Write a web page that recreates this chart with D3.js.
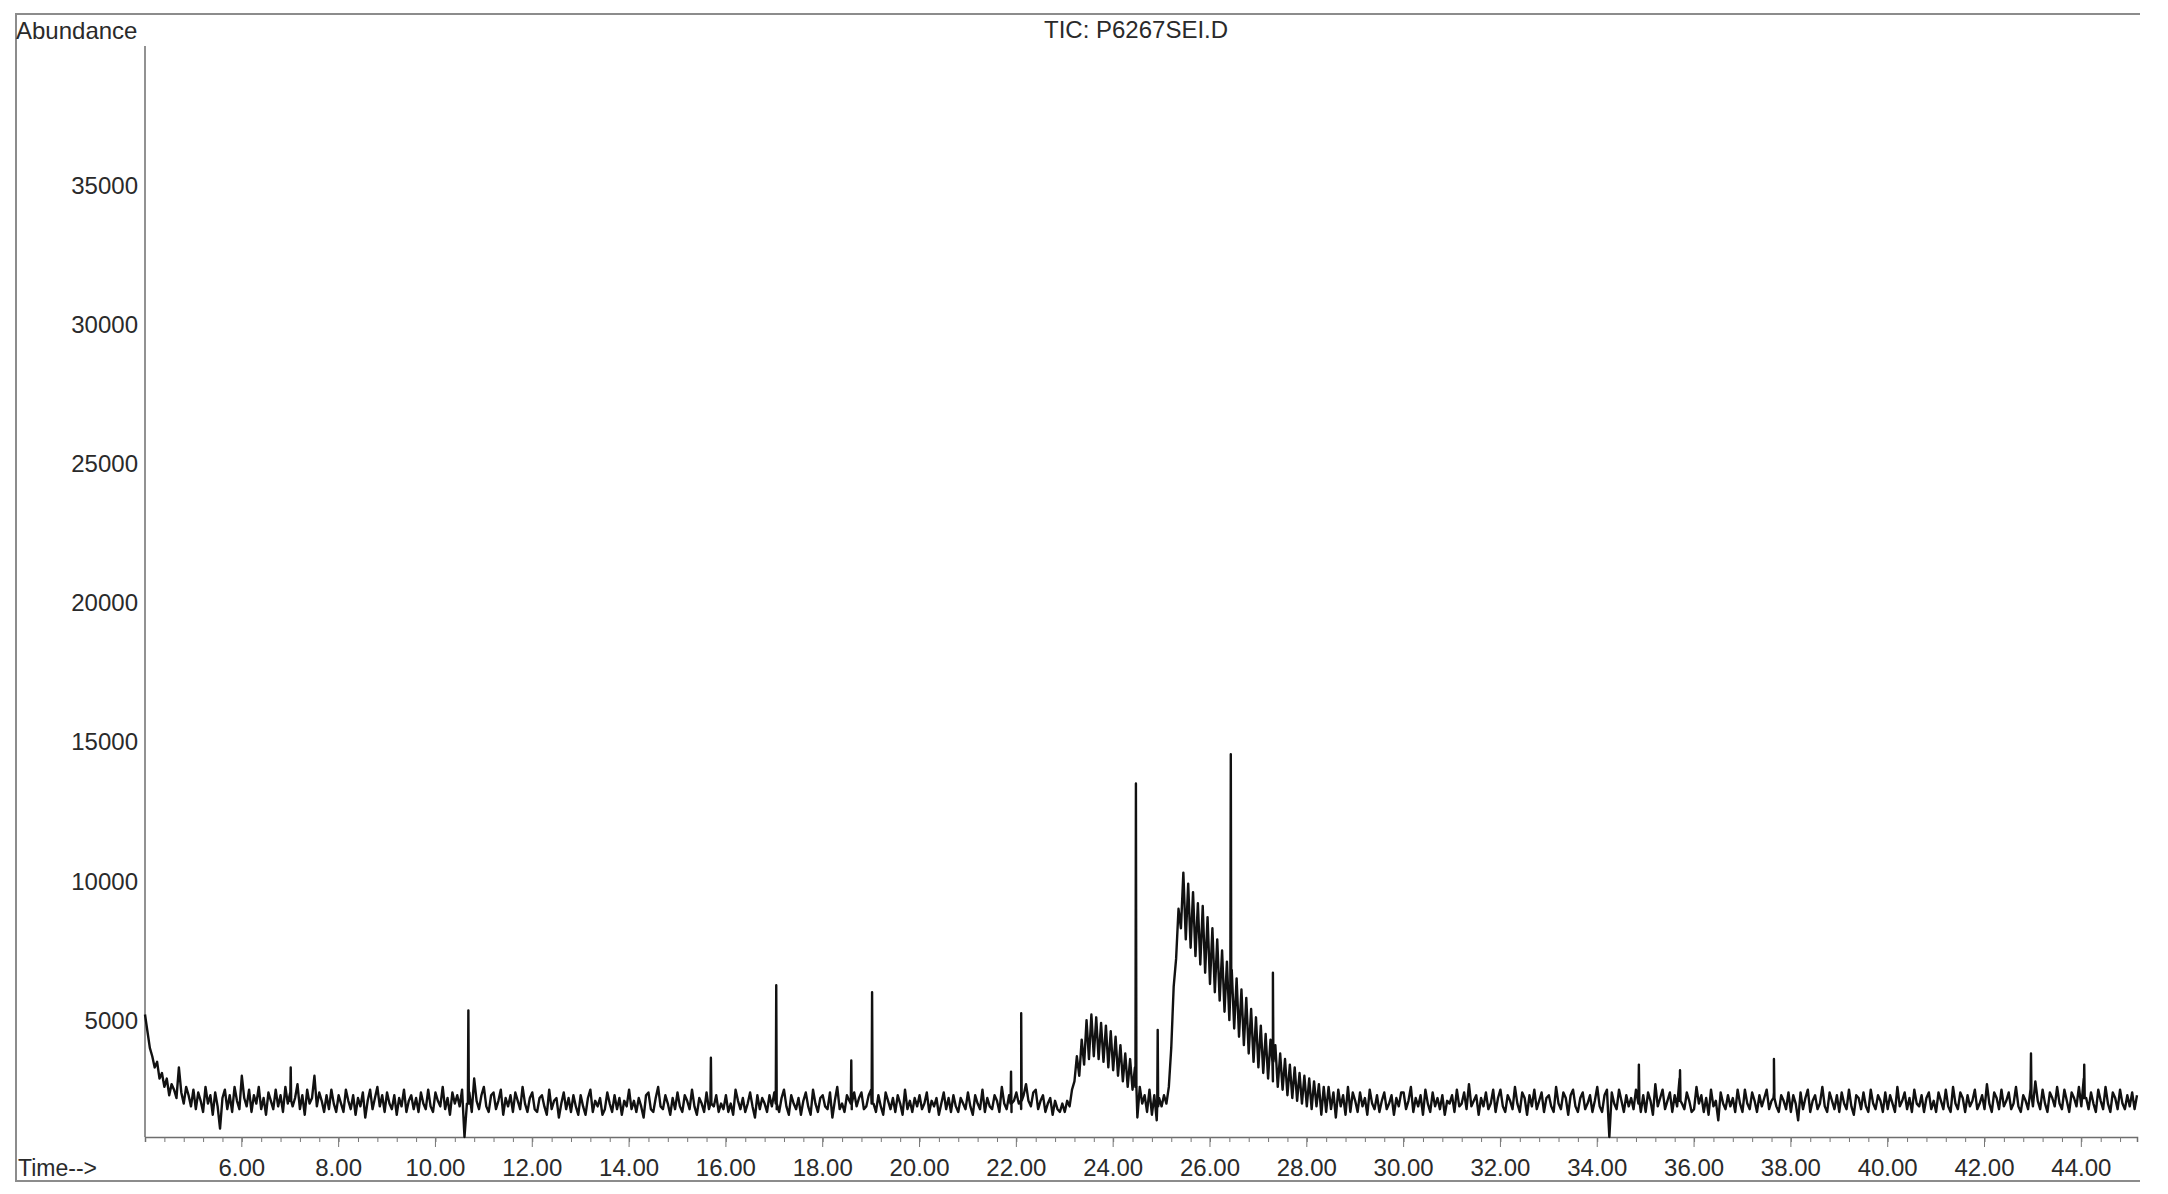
<!DOCTYPE html>
<html>
<head>
<meta charset="utf-8">
<script src="https://cdnjs.cloudflare.com/ajax/libs/d3/7.8.5/d3.min.js"></script>
<style>
  body { margin: 0; background: #fff; }
  text { font-family: "Liberation Sans", Arial, sans-serif; fill: #2a2a2a; }
</style>
</head>
<body>
<div id="chart"></div>
<script>
// chart constants
const width = 2168;
const height = 1194;

const chartTitle = "TIC: P6267SEI.D";
const yTitle = "Abundance";
const xTitle = "Time-->";

// tick labels
const yTicks = [5000, 10000, 15000, 20000, 25000, 30000, 35000];
const xTicks = [6, 8, 10, 12, 14, 16, 18, 20, 22, 24, 26, 28, 30, 32, 34, 36, 38, 40, 42, 44];

// scans, one every 0.05 min (20 per row = 1 min), abundance
const scanStep = 0.05;
const scanA = { start: 4.0, values: [
  5200, 4600, 4000, 3700, 3300, 3500, 2900, 3100, 2600, 2900, 2300, 2700, 2500, 2200, 3300, 2400, 2000, 2600, 2300, 1900,
  2500, 1800, 2400, 2100, 1700, 2600, 2000, 2300, 1600, 2400, 1900, 1100, 2200, 2500, 1800, 2300, 1700, 2600, 2100, 1800,
  3000, 2200, 1900, 2500, 1700, 2300, 2000, 2600, 1800, 2200, 1600, 2400, 2100, 1800, 2500, 1900, 2300, 1700, 2600, 2000,
  2400, 1900, 2200, 2700, 1800, 2300, 1600, 2500, 2000, 2200, 3000, 1900, 2400, 2100, 1700, 2300, 1800, 2500, 2000, 1700,
  2300, 2000, 1700, 2500, 2100, 1800, 2300, 1600, 2200, 1900, 2400, 1500, 2100, 2500, 1800, 2200, 2600, 1900, 2300, 1700,
  2400, 2000, 1800, 2300, 1600, 2200, 1900, 2500, 1700, 2100, 2300, 1800, 2200, 1700, 2400, 2000, 1800, 2500, 1900, 1700,
  2400, 2100, 1900, 2600, 1800, 2200, 1600, 2400, 2000, 2300, 1900, 2500, 800, 2000, 2400, 1700, 2900, 2100, 1800, 2300,
  2600, 1900, 1700, 2300, 2400, 1800, 2100, 2500, 1600, 2200, 1900, 2300, 1700, 2400, 2100, 1800, 2600, 2000, 1700, 2200
]};
const scanB = { start: 12.0, values: [
  2400, 1800, 1700, 2200, 2300, 1900, 1600, 2500, 1800, 2100, 2200, 1500, 2000, 2400, 1800, 2200, 1700, 2300, 1900, 1600,
  2300, 1900, 1600, 2200, 2500, 1700, 2100, 1900, 2200, 1600, 1800, 2400, 2000, 1700, 2300, 1800, 2200, 1600, 2100, 1900,
  2500, 1800, 2100, 1700, 2200, 1900, 1500, 2300, 2400, 1800, 1700, 2200, 2600, 1900, 1800, 2300, 2000, 1600, 2200, 1800,
  2400, 1900, 1700, 2300, 2100, 1800, 2500, 1900, 1600, 2200, 2000, 1700, 2400, 1800, 2100, 1900, 2300, 1700, 2000, 1800,
  2300, 1700, 2000, 1600, 2500, 2100, 1800, 2200, 1700, 2000, 2400, 1900, 1500, 2300, 1800, 2200, 2000, 1700, 2300, 1900,
  2400, 1800, 1700, 2200, 2500, 1900, 1600, 2300, 2000, 1800, 2200, 1600, 2100, 2400, 1900, 1600, 2500, 2000, 1700, 2200,
  2300, 1900, 1800, 2400, 1500, 2100, 2600, 1800, 2000, 1700, 2300, 2100, 1800, 2400, 1900, 2200, 2400, 1800, 1900, 2300,
  2500, 2000, 1700, 2300, 1900, 1600, 2400, 2100, 1800, 2200, 1700, 2300, 2000, 1600, 2500, 1800, 2100, 1700, 2200, 1900,
  2300, 1800, 2000, 2400, 1700, 2100, 1900, 2200, 1600, 2000, 2400, 1800, 2200, 1700, 2300, 1900, 1700, 2200, 2000, 1800,
  2400, 1900, 1600, 2300, 2000, 1800, 2500, 1700, 2200, 1900, 1800, 2300, 2100, 1700, 2600, 2000, 1800, 2300, 1700, 2100,
  2400, 2000, 1800, 2300, 2700, 2100, 1900, 2400, 2500, 1800, 2100, 2300, 1700, 2000, 2200, 1600, 2100, 1800, 1700, 2000
]};
const scanC = { start: 23.0, values: [
  1700, 2100, 1900, 2500, 2800, 3700, 3000, 4300, 3400, 5000, 3600, 5200, 3700, 5100, 3600, 4900, 3500, 4800, 3300, 4600,
  3200, 4400, 3000, 4100, 2800, 3800, 2600, 3600, 2500, 3300, 1500, 2600, 2000, 2300, 1700, 2500, 1600, 2300, 1400, 2200,
  1900, 2300, 2000, 2600, 4000, 6200, 7200, 9000, 8300, 10300, 7900, 9900, 7600, 9600, 7300, 9200, 7000, 9100, 6700, 8700,
  6300, 8300, 6000, 7900, 5700, 7500, 5300, 7100, 5000, 6800, 4700, 6500, 4400, 6100, 4100, 5800, 3800, 5400, 3500, 5100,
  3300, 4800, 3100, 4500, 2900, 4300, 2800, 4100, 2600, 3800, 2500, 3600, 2300, 3400, 2200, 3300, 2100, 3100, 2000, 3000,
  1900, 2900, 1800, 2800, 1900, 2700, 1600, 2600, 1700, 2600, 1800, 2400, 1500, 2500, 1900, 2300, 1600, 2600, 1700, 2400,
  2100, 1700, 2400, 1900, 2200, 1600, 2500, 2000, 1800, 2300, 1700, 2100, 2400, 1800, 2000, 2300, 1600, 2200, 1900, 2400
]};
const scanD = { start: 30.0, values: [
  2400, 1800, 2100, 2600, 1700, 2200, 1900, 2300, 1600, 2500, 2000, 1700, 2400, 1900, 2200, 1800, 2300, 1600, 2100, 2000,
  2300, 1700, 2500, 1900, 2000, 2400, 1800, 2700, 1900, 2100, 2300, 1600, 2200, 1900, 2400, 1800, 2000, 2500, 1700, 2200,
  2500, 1900, 1700, 2300, 2100, 1800, 2600, 2000, 1700, 2400, 2200, 1600, 2300, 1900, 2500, 1800, 2100, 2400, 1700, 2200,
  2300, 1900, 1700, 2600, 2000, 1800, 2400, 2200, 1600, 2300, 2500, 1900, 1700, 2200, 2400, 1800, 2000, 2300, 1700, 2100,
  2600, 1900, 1700, 2300, 2500, 800, 2400, 2000, 1800, 2500, 2100, 1700, 2300, 1900, 2200, 1800, 2500, 2000, 1700, 2300,
  1700, 2400, 2100, 1600, 2700, 1900, 2200, 2500, 1800, 2100, 2400, 1700, 2300, 1900, 2900, 2000, 1800, 2400, 2100, 1700,
  1800, 2600, 2000, 2300, 1700, 2200, 1600, 2500, 1900, 2100, 1400, 2400, 2000, 1800, 2300, 1900, 2200, 1700, 2500, 2000,
  1700, 2500, 2000, 1800, 2400, 2100, 1700, 2300, 1900, 2200, 2500, 1800, 2100, 2400, 1900, 1700, 2300, 2100, 1800, 2400
]};
const scanE = { start: 38.0, values: [
  1700, 2300, 2000, 1400, 2400, 1800, 2200, 2500, 1700, 2100, 2300, 1800, 2000, 2600, 1900, 1700, 2400, 2100, 1800, 2300,
  1700, 2400, 2000, 1800, 2500, 1900, 1600, 2300, 2200, 1800, 2400, 1900, 1700, 2500, 2000, 1800, 2300, 2100, 1700, 2400,
  1800, 2300, 2000, 1700, 2600, 1900, 2100, 2400, 1800, 2200, 1700, 2500, 2000, 1900, 2300, 1700, 2200, 2400, 1800, 2100,
  1700, 2400, 2100, 1800, 2500, 1900, 1700, 2600, 2000, 1800, 2400, 2200, 1700, 2300, 1900, 2100, 2500, 1800, 2000, 2300,
  1800, 2700, 2000, 1700, 2400, 2200, 1800, 2500, 1900, 2100, 2400, 1800, 2000, 2600, 1900, 1700, 2300, 2100, 1800, 2500,
  1900, 2800, 2100, 1800, 2500, 2000, 1700, 2400, 2200, 1900, 2600, 2000, 1800, 2500, 2100, 1700, 2400, 2200, 1900, 2600,
  1900, 2900, 2200, 1800, 2400, 2000, 1700, 2500, 2100, 1800, 2600, 2000, 1700, 2400, 2200, 1800, 2500, 2000, 1800, 2300,
  1900, 2400, 1800, 2300
]};

// narrow peaks on top of the trace
const peakTimes = [7.01, 10.68, 15.69, 17.04, 18.59, 19.02, 21.89, 22.10, 24.47, 24.92, 26.43, 27.30, 34.86, 35.71, 37.65, 42.96, 44.06];
const peakHeights = [3300, 5350, 3650, 6250, 3550, 6000, 3150, 5250, 13500, 4650, 14550, 6700, 3400, 3200, 3600, 3800, 3400];
const peakBases = [2100, 2000, 2000, 2000, 2000, 2000, 2000, 2100, 2600, 1900, 6000, 3500, 2100, 2100, 2200, 2300, 2200];

// plot area
const x = d3.scaleLinear().domain([4.0, 45.15]).range([145, 2137]);
const y = d3.scaleLinear().domain([800, 40000]).range([1137, 46]);

var svg = d3.select("#chart")
  .append("svg")
  .attr("width", width)
  .attr("height", height);

// outer frame (top, left, bottom)
svg.append("path")
  .attr("d", "M2140,14H16V1181H2140")
  .attr("fill", "none")
  .attr("stroke", "#8c8c8c")
  .attr("stroke-width", 2);

// y axis line
svg.append("line")
  .attr("x1", x(4.0)).attr("x2", x(4.0))
  .attr("y1", y(40000)).attr("y2", y(800))
  .attr("stroke", "#6e6e6e")
  .attr("stroke-width", 1.5);

// x axis with minor ticks every 0.4 min
var xAxis = d3.axisBottom(x)
  .tickValues(d3.range(4.4, 45.1, 0.4))
  .tickSize(5)
  .tickFormat("");
svg.append("g")
  .attr("transform", "translate(0," + y(800) + ")")
  .call(xAxis)
  .call(function(g) {
    g.select(".domain").attr("stroke", "#6e6e6e").attr("stroke-width", 1.5);
    g.selectAll(".tick line").attr("stroke", "#777");
  });

// major ticks and labels
svg.append("g")
  .selectAll("line")
  .data(xTicks)
  .enter()
  .append("line")
  .attr("x1", function(d) { return x(d); })
  .attr("x2", function(d) { return x(d); })
  .attr("y1", y(800))
  .attr("y2", y(800) + 10)
  .attr("stroke", "#777");

svg.append("g")
  .selectAll("text")
  .data(xTicks)
  .enter()
  .append("text")
  .attr("x", function(d) { return x(d); })
  .attr("y", 1176)
  .attr("text-anchor", "middle")
  .style("font-size", "24px")
  .text(function(d) { return d3.format(".2f")(d); });

svg.append("g")
  .selectAll("text")
  .data(yTicks)
  .enter()
  .append("text")
  .attr("x", 138)
  .attr("y", function(d) { return y(d); })
  .attr("dy", "0.36em")
  .attr("text-anchor", "end")
  .style("font-size", "24px")
  .text(function(d) { return d; });

// titles
svg.append("text")
  .attr("x", 16)
  .attr("y", 39)
  .style("font-size", "24px")
  .text(yTitle);

svg.append("text")
  .attr("x", 1044)
  .attr("y", 38)
  .style("font-size", "24px")
  .text(chartTitle);

svg.append("text")
  .attr("x", 18)
  .attr("y", 1176)
  .style("font-size", "23px")
  .text(xTitle);

// build the trace from the scan pieces plus the narrow peaks
var points = [];
[scanA, scanB, scanC, scanD, scanE].forEach(function(piece) {
  piece.values.forEach(function(v, i) {
    points.push([piece.start + i * scanStep, v]);
  });
});
peakTimes.forEach(function(t, i) {
  points.push([t - 0.01, peakBases[i]]);
  points.push([t, peakHeights[i]]);
  points.push([t + 0.01, peakBases[i]]);
});
points.sort(function(a, b) { return a[0] - b[0]; });

var traceLine = d3.line()
  .x(function(d) { return x(d[0]); })
  .y(function(d) { return y(d[1]); });

svg.append("path")
  .datum(points)
  .attr("d", traceLine)
  .attr("fill", "none")
  .attr("stroke", "#111")
  .attr("stroke-width", 2.4)
  .attr("stroke-linejoin", "round");
</script>
</body>
</html>
